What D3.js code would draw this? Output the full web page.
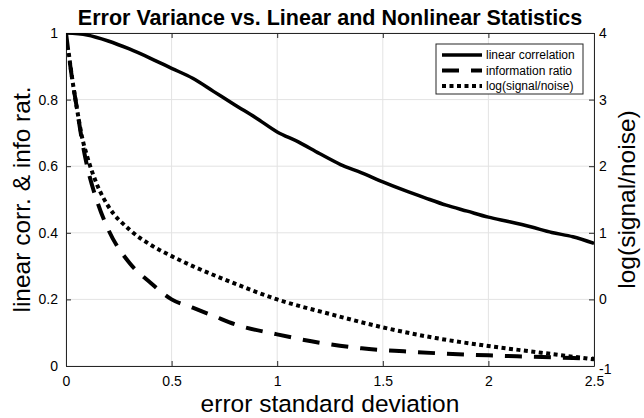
<!DOCTYPE html>
<html>
<head>
<meta charset="utf-8">
<script src="https://cdn.jsdelivr.net/npm/d3@7"></script>
<style>
  body { margin: 0; background: #fff; }
  text { font-family: "Liberation Sans", Arial, sans-serif; fill: #000; }
</style>
</head>
<body>
<div id="chart"></div>
<script>
// error standard deviation (x) and the three statistics
var corrX   = [0, 0.1, 0.2, 0.3, 0.4, 0.5, 0.6, 0.7, 0.8, 0.9, 1.0, 1.1, 1.2, 1.3,
               1.4, 1.5, 1.6, 1.7, 1.8, 1.9, 2.0, 2.1, 2.2, 2.3, 2.4, 2.5];
var corrY   = [1.0, 0.994, 0.976, 0.952, 0.924, 0.894, 0.864, 0.824, 0.784, 0.745,
               0.703, 0.673, 0.638, 0.605, 0.58, 0.553, 0.528, 0.505, 0.483, 0.465,
               0.447, 0.433, 0.418, 0.401, 0.388, 0.368];

var infoX   = [0, 0.025, 0.05, 0.075, 0.1, 0.15, 0.2, 0.3, 0.4, 0.5, 0.6, 0.7, 0.8,
               1.0, 1.2, 1.4, 1.6, 1.8, 2.0, 2.2, 2.4, 2.5];
var infoY   = [1.0, 0.88, 0.78, 0.68, 0.6, 0.49, 0.41, 0.31, 0.25, 0.2, 0.175, 0.15,
               0.125, 0.095, 0.07, 0.053, 0.044, 0.037, 0.032, 0.028, 0.024, 0.022];

var snrX    = [0.013, 0.03, 0.05, 0.075, 0.1, 0.15, 0.2, 0.3, 0.4, 0.5, 0.6, 0.75,
               1.0, 1.25, 1.5, 1.75, 2.0, 2.25, 2.5];
var snrY    = [3.7, 3.3, 2.9, 2.45, 2.15, 1.7, 1.4, 1.05, 0.82, 0.65, 0.5, 0.3,
               0.0, -0.22, -0.42, -0.58, -0.7, -0.8, -0.9];

var xTicks      = [0, 0.5, 1, 1.5, 2, 2.5];
var leftTicks   = [0, 0.2, 0.4, 0.6, 0.8, 1];
var rightTicks  = [-1, 0, 1, 2, 3, 4];
var legendNames = ["linear correlation", "information ratio", "log(signal/noise)"];

function spatioChart(domElement) {

  //--------------------------------------------------------------------------
  //
  // geometry
  //
  var margin = {top: 33, right: 50, bottom: 52, left: 66},
      outerWidth = 644,
      outerHeight = 418,
      width = outerWidth - margin.left - margin.right,
      height = outerHeight - margin.top - margin.bottom;

  var svg = d3.select(domElement).append("svg")
      .attr("width", outerWidth)
      .attr("height", outerHeight);

  var g = svg.append("g")
      .attr("transform", "translate(" + margin.left + "," + margin.top + ")");

  var x = d3.scaleLinear().domain([0, 2.5]).range([0, width]);
  var yL = d3.scaleLinear().domain([0, 1]).range([height, 0]);
  var yR = d3.scaleLinear().domain([-1, 4]).range([height, 0]);

  g.append("clipPath")
      .attr("id", "plot-area")
      .append("rect")
      .attr("width", width)
      .attr("height", height);

  //--------------------------------------------------------------------------
  //
  // grid
  //
  g.selectAll(".vgrid").data(xTicks).enter().append("line")
      .attr("x1", function(d) { return x(d); })
      .attr("x2", function(d) { return x(d); })
      .attr("y1", 0).attr("y2", height)
      .attr("stroke", "#e3e3e3").attr("stroke-width", 1);

  g.selectAll(".hgrid").data(leftTicks).enter().append("line")
      .attr("y1", function(d) { return yL(d); })
      .attr("y2", function(d) { return yL(d); })
      .attr("x1", 0).attr("x2", width)
      .attr("stroke", "#e3e3e3").attr("stroke-width", 1);

  //--------------------------------------------------------------------------
  //
  // axes (inward ticks, box)
  //
  function styleAxis(sel) {
    sel.select(".domain").attr("stroke", "#262626");
    sel.selectAll(".tick line").attr("stroke", "#262626");
    sel.selectAll(".tick text")
        .style("font-family", "Liberation Sans, Arial, sans-serif")
        .style("font-size", "14px")
        .attr("fill", "#000");
  }

  g.append("g")
      .attr("transform", "translate(0," + height + ")")
      .call(d3.axisBottom(x).tickValues(xTicks).tickSize(-5).tickSizeOuter(0)
            .tickPadding(10).tickFormat(d3.format("")))
      .call(styleAxis);

  g.append("g")
      .call(d3.axisTop(x).tickValues(xTicks).tickSize(-5).tickSizeOuter(0)
            .tickFormat(""))
      .call(styleAxis);

  g.append("g")
      .call(d3.axisLeft(yL).tickValues(leftTicks).tickSize(-5).tickSizeOuter(0)
            .tickPadding(8).tickFormat(d3.format("")))
      .call(styleAxis);

  g.append("g")
      .attr("transform", "translate(" + width + ",0)")
      .call(d3.axisRight(yR).tickValues(rightTicks).tickSize(-5).tickSizeOuter(0)
            .tickPadding(5).tickFormat(function(d) { return String(d); }))
      .call(styleAxis);

  // MATLAB nudges the lowest right label just under the corner
  g.selectAll(".tick text").filter(function(d) { return d === -1; })
      .attr("dy", "0.5em");

  //--------------------------------------------------------------------------
  //
  // lines
  //
  var lines = g.append("g").attr("clip-path", "url(#plot-area)");

  var corrLine = d3.line()
      .x(function(d, i) { return x(corrX[i]); })
      .y(function(d) { return yL(d); })
      .curve(d3.curveMonotoneX);
  var infoLine = d3.line()
      .x(function(d, i) { return x(infoX[i]); })
      .y(function(d) { return yL(d); })
      .curve(d3.curveMonotoneX);
  var snrLine = d3.line()
      .x(function(d, i) { return x(snrX[i]); })
      .y(function(d) { return yR(d); })
      .curve(d3.curveMonotoneX);

  var styles = [
    {dash: null, width: 3.5},
    {dash: "17,12", width: 4},
    {dash: "4,3.5", width: 4}
  ];

  lines.append("path").datum(corrY)
      .attr("d", corrLine)
      .attr("fill", "none").attr("stroke", "#000")
      .attr("stroke-width", styles[0].width);
  lines.append("path").datum(infoY)
      .attr("d", infoLine)
      .attr("fill", "none").attr("stroke", "#000")
      .attr("stroke-width", styles[1].width)
      .attr("stroke-dasharray", styles[1].dash);
  lines.append("path").datum(snrY)
      .attr("d", snrLine)
      .attr("fill", "none").attr("stroke", "#000")
      .attr("stroke-width", styles[2].width)
      .attr("stroke-dasharray", styles[2].dash);

  //--------------------------------------------------------------------------
  //
  // legend
  //
  var legend = svg.append("g").attr("transform", "translate(436,44)");
  legend.append("rect")
      .attr("width", 147).attr("height", 50)
      .attr("fill", "#fff").attr("stroke", "#262626").attr("stroke-width", 1);

  var rows = legend.selectAll(".row").data(legendNames).enter().append("g")
      .attr("transform", function(d, i) { return "translate(0," + (11 + i * 15.5) + ")"; });
  rows.append("line")
      .attr("x1", 6).attr("x2", 46).attr("y1", 0).attr("y2", 0)
      .attr("stroke", "#000")
      .attr("stroke-width", function(d, i) { return styles[i].width; })
      .attr("stroke-dasharray", function(d, i) { return styles[i].dash; });
  rows.append("text")
      .attr("x", 50).attr("y", 0).attr("dy", "0.35em")
      .style("font-size", "12px")
      .text(function(d) { return d; });

  //--------------------------------------------------------------------------
  //
  // titles
  //
  svg.append("text")
      .attr("x", margin.left + width / 2).attr("y", 25)
      .attr("text-anchor", "middle")
      .style("font-size", "21.5px").style("font-weight", "bold")
      .text("Error Variance vs. Linear and Nonlinear Statistics");

  svg.append("text")
      .attr("x", margin.left + width / 2).attr("y", 412)
      .attr("text-anchor", "middle")
      .style("font-size", "24.5px")
      .text("error standard deviation");

  svg.append("text")
      .attr("transform", "translate(30," + (margin.top + height / 2) + ") rotate(-90)")
      .attr("text-anchor", "middle")
      .style("font-size", "24.5px")
      .text("linear corr. & info rat.");

  svg.append("text")
      .attr("transform", "translate(635," + (margin.top + height / 2) + ") rotate(-90)")
      .attr("text-anchor", "middle")
      .style("font-size", "24.5px")
      .text("log(signal/noise)");
}

spatioChart("#chart");
</script>
</body>
</html>
